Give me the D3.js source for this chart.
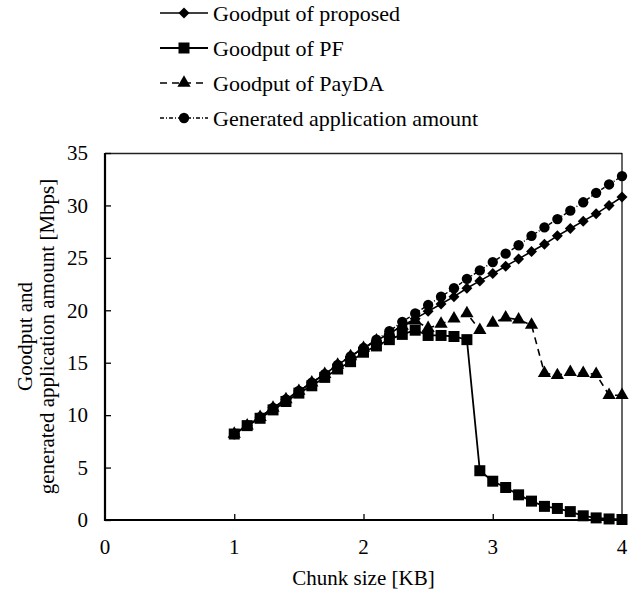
<!DOCTYPE html>
<html>
<head>
<script src="https://d3js.org/d3.v7.min.js"></script>
<style type="text/css">
  body { margin: 0; background: #fff; }
  text { font-family: "Liberation Serif", "Times New Roman", serif; fill: #000; }
</style>
</head>
<body>
<script type="text/javascript">

var chunkSize = [1.0,1.1,1.2,1.3,1.4,1.5,1.6,1.7,1.8,1.9,2.0,2.1,2.2,2.3,2.4,2.5,2.6,2.7,2.8,2.9,3.0,3.1,3.2,3.3,3.4,3.5,3.6,3.7,3.8,3.9,4.0];

var proposed = [8.2,9.0,9.8,10.7,11.5,12.3,13.1,13.9,14.8,15.6,16.4,17.1,17.8,18.5,19.2,19.9,20.6,21.3,22.1,22.8,23.5,24.2,24.9,25.6,26.3,27.1,27.8,28.5,29.2,30.0,30.8];
var pf = [8.2,9.0,9.7,10.5,11.3,12.1,12.8,13.6,14.4,15.1,16.0,16.6,17.2,17.7,18.1,17.6,17.6,17.5,17.2,4.7,3.7,3.1,2.4,1.8,1.3,1.1,0.8,0.4,0.2,0.1,0.05];
var payda = [8.2,9.0,9.8,10.7,11.5,12.3,13.1,13.9,14.8,15.6,16.4,17.1,17.8,18.5,19.0,18.3,18.7,19.2,19.7,18.1,18.8,19.3,19.1,18.6,14.0,13.8,14.1,14.0,13.9,11.9,11.9];
var generated = [8.2,9.0,9.8,10.7,11.5,12.3,13.1,13.9,14.8,15.6,16.4,17.2,18.0,18.9,19.7,20.5,21.3,22.1,23.0,23.8,24.6,25.4,26.2,27.1,27.9,28.7,29.5,30.3,31.2,32.0,32.8];

var xTicks = [0,1,2,3,4];
var yTicks = [0,5,10,15,20,25,30,35];

var seriesNames = ["Goodput of proposed","Goodput of PF","Goodput of PayDA","Generated application amount"];

var W = 641, H = 594;
var margin = {top: 153, left: 105, right: 19, bottom: 74};
var width = W - margin.left - margin.right;
var height = H - margin.top - margin.bottom;

var svg = d3.select("body").append("svg")
    .attr("width", W)
    .attr("height", H);

var g = svg.append("g")
    .attr("transform", "translate(" + margin.left + "," + margin.top + ")");

var x = d3.scaleLinear().domain([0, 4]).range([0, width]);
var y = d3.scaleLinear().domain([0, 35]).range([height, 0]);

// frame: thin top/right
g.append("line").attr("x1", 0).attr("x2", width).attr("y1", 0.5).attr("y2", 0.5)
  .attr("stroke", "#222").attr("stroke-width", 1.3);
g.append("line").attr("x1", width).attr("x2", width).attr("y1", 0).attr("y2", height)
  .attr("stroke", "#000").attr("stroke-width", 1.2);

// y axis (ticks pointing inward)
var yAxis = d3.axisRight(y).tickValues(yTicks).tickSize(6).tickFormat("");
g.append("g").call(yAxis).call(function(s) {
  s.select(".domain").remove();
  s.selectAll("line").attr("stroke", "#000").attr("stroke-width", 1.3);
});
g.selectAll(".ylab").data(yTicks).enter().append("text")
  .attr("class", "ylab")
  .attr("x", -17)
  .attr("y", function(d) { return y(d); })
  .attr("dy", "0.35em")
  .attr("text-anchor", "end")
  .style("font-size", "21px")
  .text(function(d) { return d; });

// x axis (ticks pointing inward)
var xAxis = d3.axisTop(x).tickValues([1,2,3]).tickSize(6).tickFormat("");
g.append("g").attr("transform", "translate(0," + height + ")").call(xAxis).call(function(s) {
  s.select(".domain").remove();
  s.selectAll("line").attr("stroke", "#000").attr("stroke-width", 1.3);
});
g.selectAll(".xlab").data(xTicks).enter().append("text")
  .attr("class", "xlab")
  .attr("x", function(d) { return x(d); })
  .attr("y", height + 34)
  .attr("text-anchor", "middle")
  .style("font-size", "21px")
  .text(function(d) { return d; });

// thick left / bottom axes
g.append("line").attr("x1", 0).attr("x2", 0).attr("y1", 0).attr("y2", height + 1)
  .attr("stroke", "#000").attr("stroke-width", 2.2);
g.append("line").attr("x1", -1).attr("x2", width).attr("y1", height).attr("y2", height)
  .attr("stroke", "#000").attr("stroke-width", 2.2);

// axis titles
g.append("text")
  .attr("x", width / 2)
  .attr("y", height + 65)
  .attr("text-anchor", "middle")
  .style("font-size", "21px")
  .text("Chunk size [KB]");

var yt = g.append("text")
  .attr("transform", "translate(-70," + (height / 2) + ") rotate(-90)")
  .attr("text-anchor", "middle")
  .style("font-size", "21px");
yt.append("tspan").attr("x", 0).attr("dy", "-0.15em").text("Goodput and");
yt.append("tspan").attr("x", 0).attr("dy", "1.05em").text("generated application amount [Mbps]");

// series
var diamond = d3.symbol().type(d3.symbolSquare).size(60);
var square = d3.symbol().type(d3.symbolSquare).size(121);
var triangle = d3.symbol().type(d3.symbolTriangle).size(76);
var circle = d3.symbol().type(d3.symbolCircle).size(84);

var series = [
  {name: seriesNames[2], values: payda, dash: "7,5", width: 1.6, sym: triangle, rot: 0},
  {name: seriesNames[0], values: proposed, dash: null, width: 1.6, sym: diamond, rot: 45},
  {name: seriesNames[1], values: pf, dash: null, width: 1.8, sym: square, rot: 0},
  {name: seriesNames[3], values: generated, dash: "4,2,1,2", width: 1.4, sym: circle, rot: 0}
];

var line = d3.line()
  .x(function(d) { return x(d[0]); })
  .y(function(d) { return y(d[1]); });

series.forEach(function(s) {
  var pts = chunkSize.map(function(c, i) { return [c, s.values[i]]; });
  g.append("path")
    .datum(pts)
    .attr("d", line)
    .attr("fill", "none")
    .attr("stroke", "#000")
    .attr("stroke-width", s.width)
    .attr("stroke-dasharray", s.dash);
  g.selectAll(null).data(pts).enter().append("path")
    .attr("d", s.sym)
    .attr("transform", function(d) {
      return "translate(" + x(d[0]) + "," + y(d[1]) + ") rotate(" + s.rot + ")";
    })
    .attr("fill", "#000");
});

// legend
var legendOrder = [series[1], series[2], series[0], series[3]];
var leg = svg.append("g").attr("transform", "translate(160,13)");
legendOrder.forEach(function(s, i) {
  var row = leg.append("g").attr("transform", "translate(0," + (i * 35) + ")");
  row.append("line")
    .attr("x1", 0).attr("x2", 48).attr("y1", 0).attr("y2", 0)
    .attr("stroke", "#000")
    .attr("stroke-width", s.width)
    .attr("stroke-dasharray", s.dash);
  row.append("path")
    .attr("d", s.sym)
    .attr("transform", "translate(24,0) rotate(" + s.rot + ")")
    .attr("fill", "#000");
  row.append("text")
    .attr("x", 53)
    .attr("y", 0)
    .attr("dy", "0.35em")
    .style("font-size", "22px")
    .text(s.name);
});

</script>
</body>
</html>
